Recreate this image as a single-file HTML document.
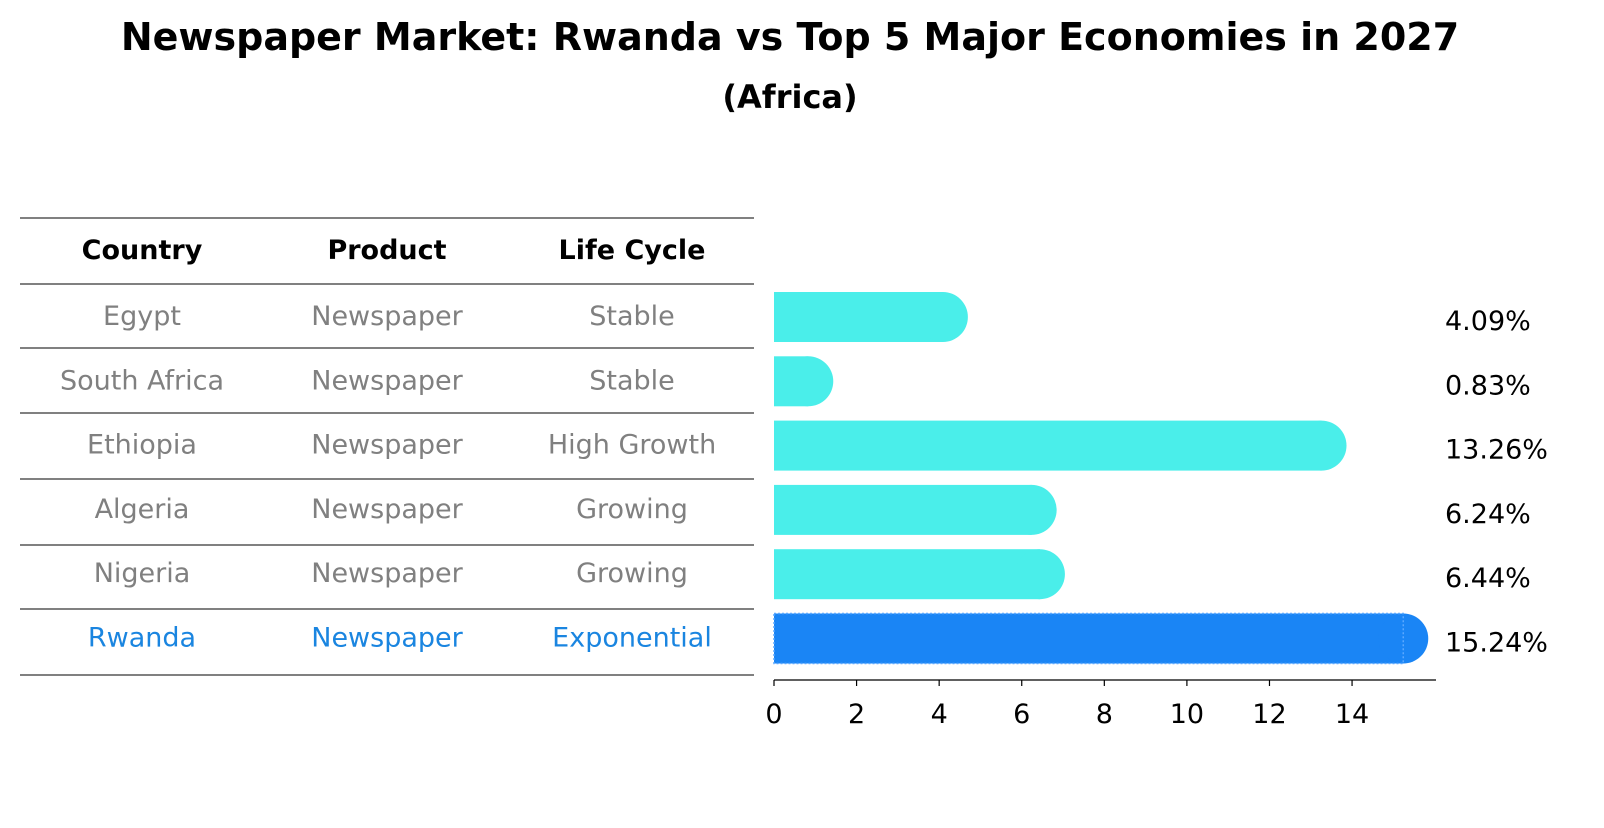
<!DOCTYPE html>
<html><head><meta charset="utf-8"><style>
body{margin:0;background:#fff;font-family:"Liberation Sans","DejaVu Sans",sans-serif;}
svg text{font-family:"DejaVu Sans","Liberation Sans",sans-serif;}
</style></head><body>
<svg width="1604" height="823" xmlns="http://www.w3.org/2000/svg">
<text x="790" y="50" text-anchor="middle" font-size="38" font-weight="bold">Newspaper Market: Rwanda vs Top 5 Major Economies in 2027</text>
<text x="790" y="108" text-anchor="middle" font-size="32" font-weight="bold">(Africa)</text>
<g id="table"></g>
<g id="bars"></g>
<g id="axis"></g>
</svg>
<script>
const countries=["Egypt","South Africa","Ethiopia","Algeria","Nigeria","Rwanda"];
const products=["Newspaper","Newspaper","Newspaper","Newspaper","Newspaper","Newspaper"];
const lifeCycles=["Stable","Stable","High Growth","Growing","Growing","Exponential"];
const values=[4.09,0.83,13.26,6.24,6.44,15.24];
const ticks=[0,2,4,6,8,10,12,14];
const NS="http://www.w3.org/2000/svg";
function mk(tag,attrs,parent,txt){const e=document.createElementNS(NS,tag);for(const k in attrs)e.setAttribute(k,attrs[k]);if(txt!==undefined)e.textContent=txt;parent.appendChild(e);return e;}
const x=v=>774+v*41.29;
const rowY=i=>317+i*64.3;
const bh=50;
const tbl=document.getElementById('table');
const lineYs=[218,284,348,413,479,545,609,675];
lineYs.forEach((ly,i)=>{const l=mk('line',{x1:20,x2:754,y1:ly,y2:ly,stroke:'#000','stroke-width':1},tbl);

});
const cols=[142,387,632];
["Country","Product","Life Cycle"].forEach((h,j)=>{const t=mk('text',{x:cols[j],y:259,'text-anchor':'middle','font-size':27,'font-weight':'bold'},tbl,h);

});
countries.forEach((c,i)=>{const col=i===countries.length-1?'#1a85e0':'#808080';
[c,products[i],lifeCycles[i]].forEach((s,j)=>{const t=mk('text',{x:cols[j],y:rowY(i)+8,'text-anchor':'middle','font-size':27,fill:col},tbl,s);

});});
const bars=document.getElementById('bars');
values.forEach((v,i)=>{const last=i===values.length-1;const y0=rowY(i)-bh/2;
const g=mk('g',{},bars);


const fill=last?'#1a85f5':'#4aeeea';
mk('rect',{x:774,y:y0,width:Math.max(0,x(v)-774),height:bh,fill:fill},g);
mk('circle',{cx:x(v),cy:rowY(i),r:bh/2,fill:fill},g);
if(last){mk('rect',{x:774,y:y0,width:x(v)-774,height:bh,fill:'none',stroke:'#5aa8ff','stroke-width':1.5,'stroke-dasharray':'2,2'},g);}
const t=mk('text',{x:1445,y:rowY(i)+13,'font-size':27},bars,v.toFixed(2)+'%');

});
const ax=document.getElementById('axis');
mk('line',{x1:774,x2:1436,y1:680,y2:680,stroke:'#000','stroke-width':1.2},ax);
ticks.forEach(tv=>{mk('line',{x1:x(tv),x2:x(tv),y1:680,y2:686,stroke:'#000','stroke-width':1.2},ax);
const t=mk('text',{x:x(tv),y:723,'text-anchor':'middle','font-size':27},ax,tv);

});
</script>
</body></html>
